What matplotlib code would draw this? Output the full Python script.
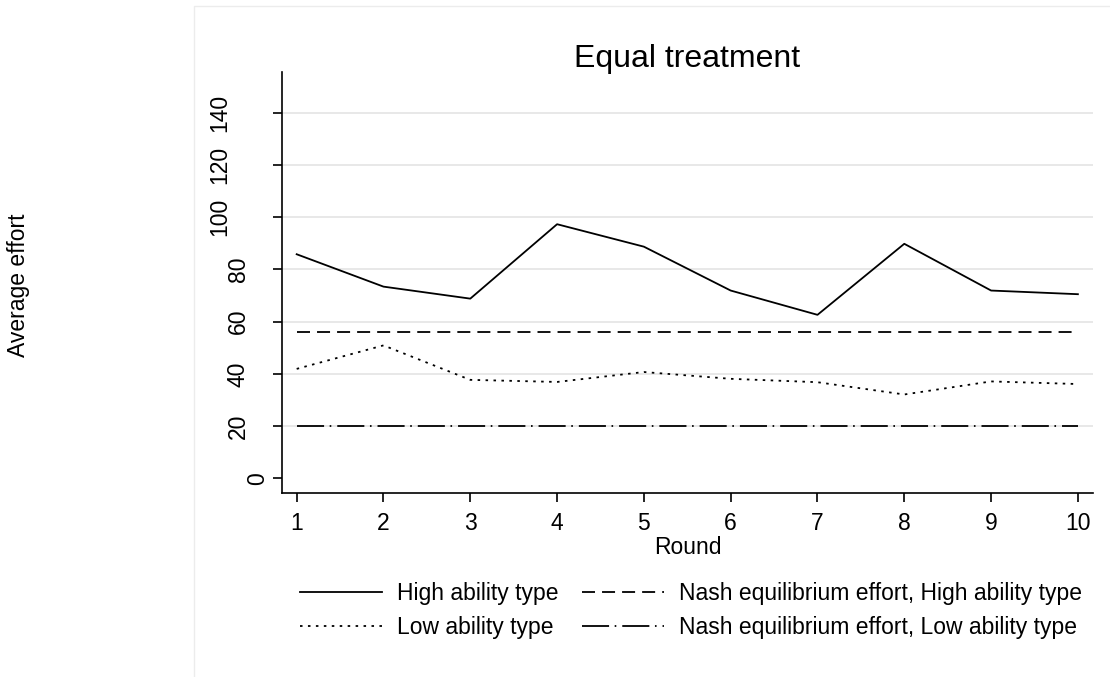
import matplotlib
matplotlib.use("Agg")
import matplotlib.pyplot as plt
from matplotlib.patches import Rectangle
from matplotlib.transforms import ScaledTranslation

plt.rcParams['font.family'] = ['Liberation Sans', 'DejaVu Sans']

rounds = [1, 2, 3, 4, 5, 6, 7, 8, 9, 10]
high_ability = [85.8, 73.4, 68.8, 97.3, 88.7, 71.9, 62.6, 89.8, 71.9, 70.5]
low_ability = [41.9, 50.9, 37.7, 36.9, 40.7, 38.1, 36.8, 32.1, 37.1, 36.1]
nash_high = [56.0] * 10
nash_low = [20.0] * 10
yticks = [0, 20, 40, 60, 80, 100, 120, 140]

W, H = 1110, 677
fig = plt.figure(figsize=(W / 100, H / 100), dpi=100)
fig.patch.set_facecolor('white')

# outer panel border
fig.patches.append(Rectangle((194 / W, -0.05), 1.0, 1 - 6 / H + 0.05,
                             transform=fig.transFigure, fill=False,
                             edgecolor='#ececec', linewidth=1.0, zorder=0))

ax = fig.add_axes([282 / W, 1 - 493.3 / H, (1093 - 282) / W, (493.3 - 71.7) / H])
ax.set_facecolor('none')

lw = 1.3
l1, = ax.plot(rounds, high_ability, color='black', lw=lw, linestyle='-',
              label='High ability type', zorder=3)
l2, = ax.plot(rounds, low_ability, color='black', lw=lw, linestyle=(0, (1.4, 3.0)),
              label='Low ability type', zorder=3)
l3, = ax.plot(rounds, nash_high, color='black', lw=lw, linestyle=(0, (7.2, 3.9)),
              label='Nash equilibrium effort, High ability type', zorder=3)
l4, = ax.plot(rounds, nash_low, color='black', lw=lw, linestyle=(0, (15.0, 3.1, 0.9, 3.3)),
              label='Nash equilibrium effort, Low ability type', zorder=3)

ax.set_xlim(0.831, 10.174)
ax.set_ylim(-5.74, 155.7)

for v in yticks:
    if v > 0:
        ax.axhline(v, color='#e6e6e6', lw=1.3, zorder=1)

ax.spines['top'].set_visible(False)
ax.spines['right'].set_visible(False)
ax.spines['left'].set_linewidth(1.2)
ax.spines['bottom'].set_linewidth(1.2)

ax.set_xticks(rounds)
ax.set_xticklabels([str(r) for r in rounds])
ax.set_yticks(yticks)
ax.set_yticklabels([str(v) for v in yticks], rotation=90, va='center', ha='right')
ax.tick_params(axis='both', direction='out', length=6.5, width=1.2, colors='black',
               labelsize=16.5)
ax.tick_params(axis='x', pad=7)
ax.tick_params(axis='y', pad=3)

# Stata-style offset: longer labels sit further from the axis
for lab, v in zip(ax.get_yticklabels(), yticks):
    n = len(str(v))
    dx = -(n - 1) * 19 / 100.0
    lab.set_transform(lab.get_transform() + ScaledTranslation(dx, 0, fig.dpi_scale_trans))

fig.text(687.5 / W, 1 - 59 / H, 'Equal treatment', ha='center', va='center', fontsize=23)
fig.text(687.5 / W, 1 - 548 / H, 'Round', ha='center', va='center', fontsize=16.5)
fig.text(19 / W, 1 - 285 / H, 'Average effort', ha='center', va='center', fontsize=16.5,
         rotation=90)

leg = fig.legend(handles=[l1, l2, l3, l4], ncol=2, loc='upper left',
                 bbox_to_anchor=(300 / W, 1 - 582 / H), frameon=False,
                 fontsize=16.5, handlelength=3.57, handletextpad=0.65,
                 columnspacing=1.05, labelspacing=0.48, borderpad=0, borderaxespad=0)

fig.savefig('out.png', dpi=100, facecolor='white')
